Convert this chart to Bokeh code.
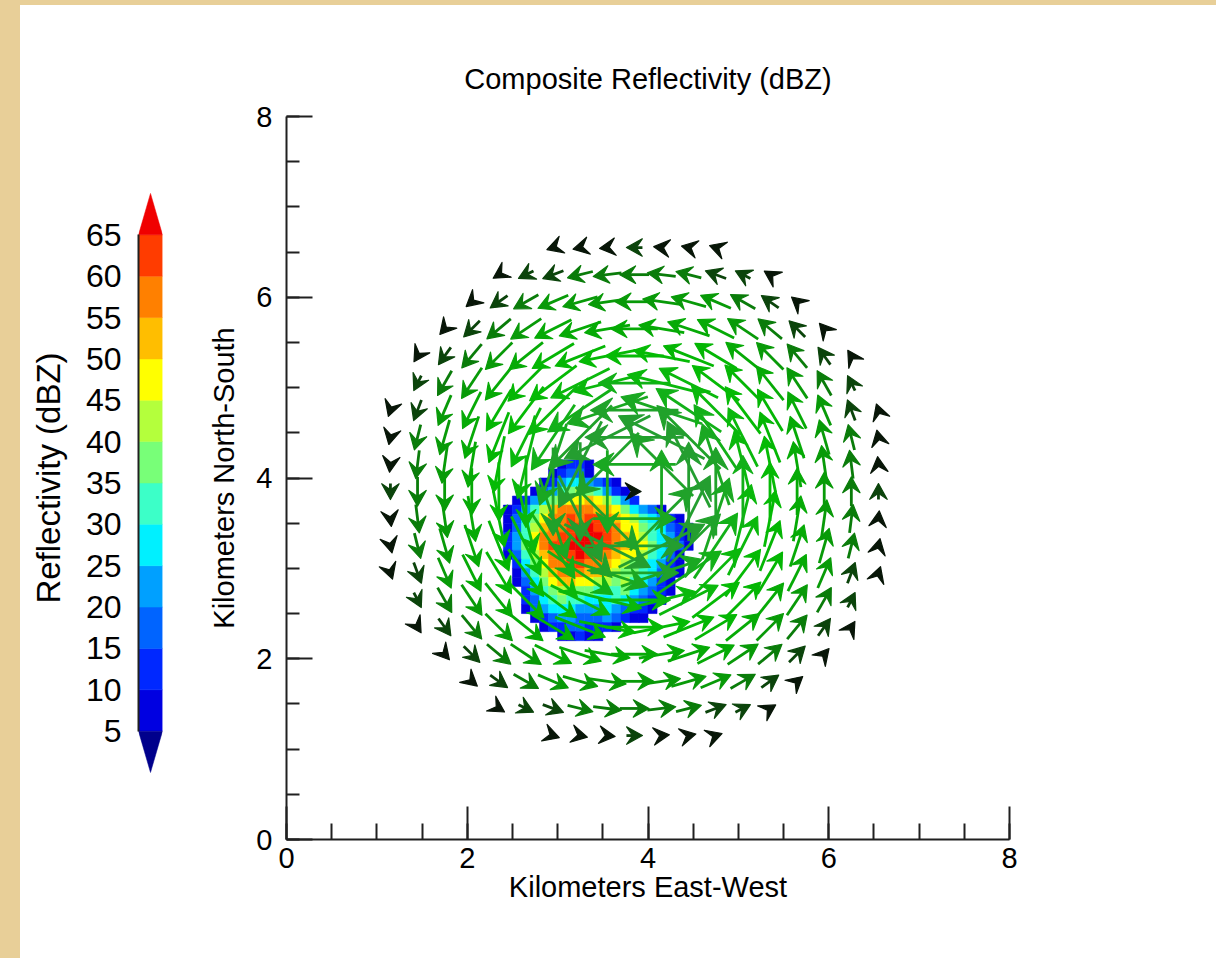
import numpy as np
from bokeh.plotting import figure
from bokeh.models import (Range1d, LinearColorMapper, SingleIntervalTicker,
                          FixedTicker, ColumnDataSource)
from bokeh.layouts import row, column
from bokeh.transform import transform
from bokeh.embed import file_html
from bokeh.resources import INLINE

FONT = "Liberation Sans"

# ---------------- data ----------------
title_text = "Composite Reflectivity (dBZ)"
x_label = "Kilometers East-West"
y_label = "Kilometers North-South"
cb_label = "Reflectivity (dBZ)"

# colour-bar levels (dBZ) and fill colours (below 5, 5-10, ..., 60-65, above 65)
refl_levels = [5, 10, 15, 20, 25, 30, 35, 40, 45, 50, 55, 60, 65]
refl_colors = ["#00008c", "#0000e1", "#0028ff", "#0064ff", "#00a0ff", "#00f0ff",
               "#3cffc8", "#78ff78", "#b4ff3c", "#ffff00", "#ffbe00", "#ff8000",
               "#ff3c00", "#f00000"]

# composite reflectivity on a 0.1 km grid, level code per cell
# ('.' = no echo, '1' = 5-10 dBZ ... '9' = 45-50, 'A' = 50-55, 'B' = 55-60, 'C' = 60-65, 'D' = >65)
refl_x0 = 2.4      # west edge of first column (km)
refl_ytop = 4.2    # north edge of first row (km)
refl_cell = 0.1    # cell size (km)
refl_rows = [
    "......1221...........",
    ".....12331...........",
    "....124554321........",
    "...13467876421.......",
    ".12457899A98642......",
    "12468ABBBBAA975431...",
    "13579BBCBCCBA9865421.",
    "1368ABBCCDCCB99765321",
    "2469BBCCDDDCBA9865421",
    "2479BCCDDDCCBA9975431",
    "1368ABCCDCCBA9986531.",
    ".2579BBCCBBA98765421.",
    ".1468ABBBAA987765321.",
    ".13579AA99887865421..",
    "..24678877666754321..",
    "..2356766555654321...",
    "..134555444543221....",
    "...1234433343211.....",
    "....122332221........",
    "......11211..........",
]
level_codes = "0123456789ABCD"

# wind vectors: grid (km), vortex centre, radial profile of wind speed (m/s)
vec_grid_km = [1.15, 1.45, 1.75, 2.05, 2.35, 2.65, 2.95, 3.25, 3.55, 3.85,
               4.15, 4.45, 4.75, 5.05, 5.35, 5.65, 5.95, 6.25, 6.55]
vortex_center = (3.85, 3.85)
vortex_max_radius = 2.9
profile_r = [0.0, 0.3, 0.6, 0.9, 1.2, 1.5, 1.8, 2.1, 2.4, 2.7, 2.9]
profile_speed = [5.0, 31.0, 37.0, 33.0, 27.0, 22.0, 17.5, 14.5, 11.0, 6.0, 4.5]

arrow_speed_low, arrow_speed_high = 0, 39
arrow_palette = ["#020602", "#081608", "#0b440b", "#0a7c0a", "#089a08", "#06aa06",
                 "#04b604", "#05ba05", "#0ab80c", "#12b018", "#1aa822", "#20a22a",
                 "#249e30"]
KM_PER_MPS = 0.0295  # arrow length scale

# ---------------- main plot ----------------
BT, BB = 111, 119
p = figure(width=1026, height=953, x_range=Range1d(0, 8), y_range=Range1d(0, 8),
           output_backend="svg", toolbar_location=None,
           min_border_left=96, min_border_right=207,
           min_border_top=BT, min_border_bottom=BB,
           title=title_text)
p.outline_line_color = None
p.grid.visible = False
p.background_fill_color = "white"
p.border_fill_color = "white"
p.title.text_font = FONT
p.title.text_font_size = "29px"
p.title.text_font_style = "normal"
p.title.align = "center"
p.title.text_color = "black"
p.title.standoff = 43

for ax in (p.xaxis[0], p.yaxis[0]):
    ax.ticker = SingleIntervalTicker(interval=2, num_minor_ticks=4)
    ax.major_tick_out = 0
    ax.minor_tick_out = 0
    ax.axis_line_width = 2
    ax.axis_line_color = "#202020"
    ax.major_tick_line_width = 2
    ax.minor_tick_line_width = 2
    ax.major_tick_line_color = "#202020"
    ax.minor_tick_line_color = "#202020"
    ax.major_label_text_font = FONT
    ax.major_label_text_font_size = "29px"
    ax.major_label_text_color = "black"
    ax.axis_label_text_font = FONT
    ax.axis_label_text_font_size = "29px"
    ax.axis_label_text_font_style = "normal"
    ax.axis_label_text_color = "black"
p.xaxis.major_tick_in = 33
p.xaxis.minor_tick_in = 16
p.yaxis.major_tick_in = 26
p.yaxis.minor_tick_in = 13
p.xaxis.axis_label = x_label
p.yaxis.axis_label = y_label
p.xaxis.major_label_standoff = 8
p.xaxis.axis_label_standoff = 0
p.yaxis.major_label_standoff = 14
p.yaxis.axis_label_standoff = 13

refl_mapper = LinearColorMapper(palette=refl_colors, low=0, high=70)

# reflectivity cells
cx, cy, cv = [], [], []
for i, line in enumerate(refl_rows):
    for j, ch in enumerate(line):
        if ch == ".":
            continue
        cx.append(refl_x0 + (j + 0.5) * refl_cell)
        cy.append(refl_ytop - (i + 0.5) * refl_cell)
        cv.append(level_codes.index(ch) * 5 + 2.5)
refl_src = ColumnDataSource(dict(x=cx, y=cy, v=cv))
p.rect(x="x", y="y", width=refl_cell, height=refl_cell, source=refl_src,
       fill_color=transform("v", refl_mapper), line_color=transform("v", refl_mapper),
       line_width=0.6)

# wind vectors
gx, gy = np.meshgrid(np.array(vec_grid_km), np.array(vec_grid_km))
gx = gx.ravel()
gy = gy.ravel()
dx = gx - vortex_center[0]
dy = gy - vortex_center[1]
rr = np.hypot(dx, dy)
keep = rr <= vortex_max_radius
gx, gy, dx, dy, rr = gx[keep], gy[keep], dx[keep], dy[keep], rr[keep]
spd = np.interp(rr, profile_r, profile_speed)
safe = np.where(rr > 0, rr, 1.0)
ux = np.where(rr > 0, -dy / safe, 1.0)
uy = np.where(rr > 0, dx / safe, 0.0)
L = spd * KM_PER_MPS
head = np.clip(0.25 * L, 0.175, 0.25)
hw = 0.55 * head
tipx = gx + 0.5 * L * ux
tipy = gy + 0.5 * L * uy
tailx = gx - 0.5 * L * ux
taily = gy - 0.5 * L * uy
notchx = tipx - 0.62 * head * ux
notchy = tipy - 0.62 * head * uy
px_, py_ = -uy, ux
hx, hy = [], []
for k in range(len(gx)):
    bx = tipx[k] - head[k] * ux[k]
    by = tipy[k] - head[k] * uy[k]
    hx.append([tipx[k], bx + hw[k] * px_[k], notchx[k], bx - hw[k] * px_[k]])
    hy.append([tipy[k], by + hw[k] * py_[k], notchy[k], by - hw[k] * py_[k]])
shaft_end_x = np.where(L > head, notchx, tailx)
shaft_end_y = np.where(L > head, notchy, taily)

arrow_mapper = LinearColorMapper(palette=arrow_palette, low=arrow_speed_low,
                                 high=arrow_speed_high)
vsrc = ColumnDataSource(dict(x0=tailx, y0=taily, x1=shaft_end_x, y1=shaft_end_y,
                             hx=hx, hy=hy, spd=spd))
p.segment(x0="x0", y0="y0", x1="x1", y1="y1", source=vsrc,
          line_color=transform("spd", arrow_mapper), line_width=2.8)
p.patches(xs="hx", ys="hy", source=vsrc, fill_color=transform("spd", arrow_mapper),
          line_color=transform("spd", arrow_mapper), line_width=1.2,
          line_join="round")

# ---------------- colour bar ----------------
# its frame shares the main frame's vertical extent; the range places the bar
cb = figure(width=170, height=953, x_range=Range1d(0, 1), y_range=Range1d(-8.1, 79.3),
            output_backend="svg", toolbar_location=None,
            min_border_left=118, min_border_right=28,
            min_border_top=BT, min_border_bottom=BB)
cb.outline_line_color = None
cb.grid.visible = False
cb.xaxis.visible = False
cb.border_fill_color = "white"

band_src = ColumnDataSource(dict(bottom=refl_levels[:-1], top=refl_levels[1:],
                                 v=[(a + b) / 2 for a, b in zip(refl_levels[:-1], refl_levels[1:])]))
cb.quad(left=0, right=1, bottom="bottom", top="top", source=band_src,
        fill_color=transform("v", refl_mapper), line_color=transform("v", refl_mapper),
        line_width=0.5)
tri_src = ColumnDataSource(dict(
    xs=[[0, 1, 0.5], [0, 1, 0.5]],
    ys=[[refl_levels[-1], refl_levels[-1], 70], [refl_levels[0], refl_levels[0], 0]],
    v=[refl_levels[-1] + 2.5, refl_levels[0] - 2.5]))
cb.patches(xs="xs", ys="ys", source=tri_src, fill_color=transform("v", refl_mapper),
           line_color=transform("v", refl_mapper), line_width=0.5)

cax = cb.yaxis[0]
cax.ticker = FixedTicker(ticks=refl_levels, minor_ticks=[])
cax.bounds = (refl_levels[0], refl_levels[-1])
cax.major_tick_in = 0
cax.major_tick_out = 0
cax.minor_tick_in = 0
cax.minor_tick_out = 0
cax.axis_line_width = 2
cax.axis_line_color = "#202020"
cax.major_label_text_font = FONT
cax.major_label_text_font_size = "32px"
cax.major_label_text_color = "black"
cax.major_label_standoff = 17
cax.axis_label = cb_label
cax.axis_label_text_font = FONT
cax.axis_label_text_font_size = "33px"
cax.axis_label_text_font_style = "normal"
cax.axis_label_text_color = "black"
cax.axis_label_standoff = 16

inner = row(cb, p, styles={"background-color": "white"})
layout = column(inner, styles={"background-color": "#e8cf98",
                               "padding-left": "20px", "padding-top": "5px"})

open("out.html", "w").write(file_html(layout, INLINE))
